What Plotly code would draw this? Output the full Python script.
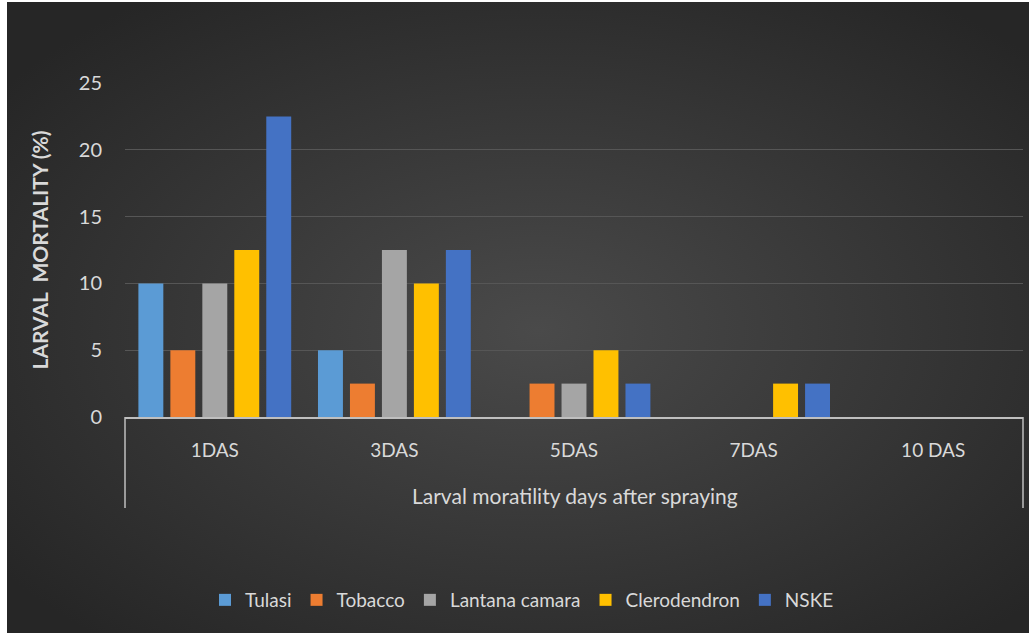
import plotly.graph_objects as go
import urllib.parse

# Larval mortality (%) per botanical treatment, by days after spraying
days = ["1DAS", "3DAS", "5DAS", "7DAS", "10 DAS"]
tulasi = [10, 5, 0, 0, 0]
tobacco = [5, 2.5, 2.5, 0, 0]
lantana = [10, 12.5, 2.5, 0, 0]
clerodendron = [12.5, 10, 5, 2.5, 0]
nske = [22.5, 12.5, 2.5, 2.5, 0]

series = [
    ("Tulasi", tulasi, "#5B9BD5"),
    ("Tobacco", tobacco, "#ED7D31"),
    ("Lantana camara", lantana, "#A5A5A5"),
    ("Clerodendron", clerodendron, "#FFC000"),
    ("NSKE", nske, "#4472C4"),
]

FONT = "Lato, 'Open Sans', sans-serif"
TXT = "#D9D9D9"

fig = go.Figure()
for name, vals, col in series:
    fig.add_trace(go.Bar(
        name=name, x=days, y=vals,
        marker=dict(color=col, line=dict(width=0)),
    ))

# radial dark background
svg = (
    "<svg xmlns='http://www.w3.org/2000/svg' width='1022' height='631' preserveAspectRatio='none'>"
    "<defs><radialGradient id='g' cx='52%' cy='52%' r='65%'>"
    "<stop offset='0%' stop-color='#4a4a4a'/>"
    "<stop offset='100%' stop-color='#262626'/>"
    "</radialGradient></defs>"
    "<rect width='1022' height='631' fill='url(#g)'/></svg>"
)
bg_src = "data:image/svg+xml;utf8," + urllib.parse.quote(svg)

L, R, T, B = 125, 8, 83, 218
W, H = 1031, 635
pw, ph = W - L - R, H - T - B

def px_x(px):
    return (px - L) / pw

def px_y(py):
    return (H - B - py) / ph

fig.add_layout_image(
    source=bg_src, xref="paper", yref="paper",
    x=px_x(7), y=px_y(2), sizex=px_x(1029) - px_x(7), sizey=px_y(2) - px_y(633),
    xanchor="left", yanchor="top", sizing="stretch", layer="below",
)

# category box lines below the axis
for xp in (0, 1):
    fig.add_shape(type="line", xref="paper", yref="paper",
                  x0=xp, x1=xp, y0=0, y1=px_y(508),
                  line=dict(color="#BFBFBF", width=1.5))

fig.add_annotation(
    text="Larval moratility days after spraying", xref="paper", yref="paper",
    x=px_x(575), y=px_y(495), xanchor="center", yanchor="middle", showarrow=False,
    font=dict(family=FONT, size=21, color=TXT),
)

fig.update_layout(
    width=W, height=H,
    margin=dict(l=L, r=R, t=T, b=B, pad=0),
    paper_bgcolor="white",
    plot_bgcolor="rgba(0,0,0,0)",
    barmode="group", bargap=0.11, bargroupgap=0.22,
    font=dict(family=FONT, size=16, color=TXT),
    showlegend=True,
    legend=dict(
        orientation="h", x=px_x(522), xanchor="center", y=px_y(600), yanchor="middle",
        font=dict(family=FONT, size=19, color=TXT), bgcolor="rgba(0,0,0,0)",
        itemwidth=30, traceorder="normal",
    ),
    xaxis=dict(
        showgrid=False, showline=True, linecolor="#BFBFBF", linewidth=1.5,
        ticks="outside", ticklen=15, tickcolor="rgba(0,0,0,0)",
        tickfont=dict(family=FONT, size=19, color=TXT),
        zeroline=False,
    ),
    yaxis=dict(
        range=[0, 25], tickvals=[0, 5, 10, 15, 20, 25],
        showgrid=True, gridcolor="#565656", gridwidth=1,
        zeroline=False, showline=False,
        ticks="outside", ticklen=18, tickcolor="rgba(0,0,0,0)",
        tickfont=dict(family=FONT, size=20, color=TXT),
        title=dict(text="<b>LARVAL  MORTALITY (%)</b>", standoff=24,
                   font=dict(family=FONT, size=21, color=TXT)),
    ),
)

fig.write_html("out.html")
